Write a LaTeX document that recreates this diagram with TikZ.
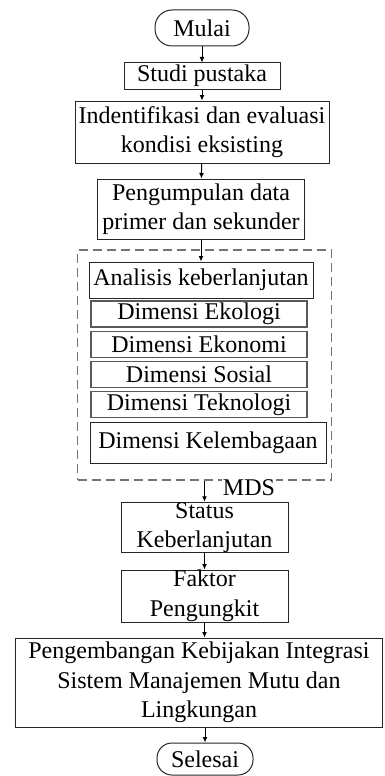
\documentclass[tikz,border=0pt]{standalone}
\usepackage{fontspec}
\setmainfont{Liberation Serif}
\usetikzlibrary{arrows.meta}
\tikzset{
  box/.style={draw=black!85, line width=1pt, align=center, inner sep=0pt,
    font=\fontsize{24}{29.5}\selectfont},
  terminal/.style={box, rounded corners=17pt},
  dimensi/.style={box, draw=black!65, line width=1.4pt},
  panah/.style={-{Latex[length=5.5pt,width=5pt]}, line width=1pt},
}
\begin{document}
\begin{tikzpicture}
    [x=1pt,y=-1pt]
    \useasboundingbox (0,0) rectangle (384,776);
    %start
    \node[terminal, minimum width=94pt, minimum height=36pt] (mulai) at (202,28) {Mulai};
    %steps before analysis
    \node[box, minimum width=156pt, minimum height=26pt] (studi) at (202,76) {Studi pustaka};
    \node[box, minimum width=254pt, minimum height=62pt] (identifikasi) at (202,132)
    {Indentifikasi dan evaluasi\\kondisi eksisting};
    \node[box, minimum width=207pt, minimum height=60pt] (pengumpulan) at (201,209)
    {Pengumpulan data\\primer dan sekunder};
    %dashed frame
    \node[draw=black!55, line width=1.5pt, dash pattern=on 9pt off 5pt,
    minimum width=254pt, minimum height=230pt] (kerangka) at (204.5,365) {};
    %dimensions
    \node[box, minimum width=224pt, minimum height=36pt] (analisis) at (201,280) {Analisis keberlanjutan};
    \node[dimensi, minimum width=216pt, minimum height=26pt] (ekologi) at (199,314) {Dimensi Ekologi};
    \node[dimensi, minimum width=216pt, minimum height=26pt] (ekonomi) at (199,344.5) {Dimensi Ekonomi};
    \node[dimensi, minimum width=216pt, minimum height=26pt] (sosial) at (199,374.5) {Dimensi Sosial};
    \node[dimensi, minimum width=216pt, minimum height=26pt] (teknologi) at (199,404.5) {Dimensi Teknologi};
    \node[box, minimum width=236pt, minimum height=41pt] (kelembagaan) at (208,442.5) {Dimensi Kelembagaan};
    %steps after analysis
    \node[fill=white, inner sep=0.5pt, font=\fontsize{24}{29.5}\selectfont] (mds) at (249,488) {MDS};
    \node[box, minimum width=167pt, minimum height=49pt] (status) at (204.5,527.5)
    {Status\\Keberlanjutan};
    \node[box, minimum width=167pt, minimum height=52pt] (faktor) at (204.5,596)
    {Faktor\\Pengungkit};
    \node[box, minimum width=367pt, minimum height=89pt] (pengembangan) at (199,682.5)
    {Pengembangan Kebijakan Integrasi\\Sistem Manajemen Mutu dan\\Lingkungan};
    %end
    \node[terminal, minimum width=96pt, minimum height=32pt, rounded corners=15pt] (selesai) at (205,759) {Selesai};
    %arrows
    \draw[panah] (mulai) -- (studi);
    \draw[panah] (studi) -- (identifikasi);
    \draw[panah] (identifikasi) -- (pengumpulan);
    \draw[panah] (pengumpulan) -- (analisis);
    \draw[panah] (kerangka) -- (status);
    \draw[panah] (status) -- (faktor);
    \draw[panah] (faktor.south) -- (faktor.south |- pengembangan.north);
    \draw[panah] (pengembangan.south -| selesai.north) -- (selesai);
\end{tikzpicture}
\end{document}
